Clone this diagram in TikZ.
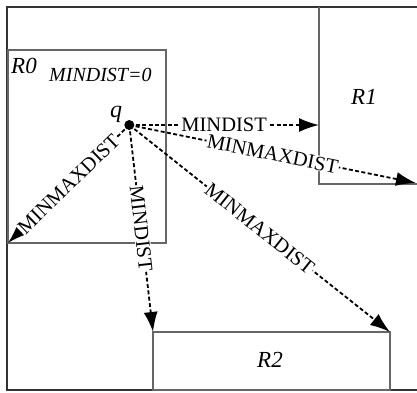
\documentclass[tikz,border=0pt]{standalone}
\usepackage{fontspec}
\setmainfont{Liberation Serif}
\usetikzlibrary{arrows.meta}
\begin{document}
\begin{tikzpicture}[x=1pt,y=-1pt,
  frame/.style={draw=black!80, line width=1.4pt},
  box/.style={draw=black!60, line width=1.1pt},
  rlabel/.style={font=\fontsize{23}{23}\selectfont\itshape, inner sep=0pt, anchor=base west},
  dist/.style={line width=1.8pt, dash pattern=on 4pt off 2.4pt,
    -{Latex[length=20pt,width=14pt]}},
  dlabel/.style={midway, sloped, fill=white, inner sep=0.8pt,
    font=\fontsize{20.5}{20.5}\selectfont}]
\useasboundingbox (0,0) rectangle (417,392);

% outer frame, open on the right
\draw[frame] (417,7) -- (7,7) -- (7,390) -- (417,390);

% the three rectangles
\coordinate (R0nw) at (8,50);
\coordinate (R0se) at (166,243);
\coordinate (R0sw) at (8,243);
\draw[box] (R0nw) rectangle (R0se);

\coordinate (R1nw) at (319,7);
\coordinate (R1sw) at (319,184);
\coordinate (R1se) at (417,184);
\draw[box] (R1nw) -- (R1sw) -- (R1se);

\coordinate (R2nw) at (153,332);
\coordinate (R2ne) at (390,332);
\coordinate (R2se) at (390,390);
\draw[box] (R2nw) rectangle (R2se);

% labels
\node[rlabel] (lR0) at (11,73.5) {R0};
\node[rlabel, font=\fontsize{20}{20}\selectfont\itshape] (lmd) at (49,81) {MINDIST=0};
\node[rlabel] (lR1) at (351,104) {R1};
\node[rlabel] (lR2) at (257,367) {R2};

% query point
\node[circle, fill=black, inner sep=0pt, minimum size=10pt] (q) at (129.3,125) {};
\node[rlabel, font=\fontsize{24}{24}\selectfont\itshape] (lq) at (110,117) {q};

% distances from q
\coordinate (t1) at (q -| R1sw);
\coordinate (t2) at (416,183);
\draw[dist] (q.center) -- (t1) node[dlabel] {MINDIST};
\draw[dist] (q.center) -- (t2) node[dlabel] {MINMAXDIST};
\draw[dist] (q.center) -- (R0sw) node[dlabel] {MINMAXDIST};
\draw[dist] (q.center) -- (R2nw) node[dlabel] {MINDIST};
\draw[dist] (q.center) -- (R2ne) node[dlabel] {MINMAXDIST};
\end{tikzpicture}
\end{document}
